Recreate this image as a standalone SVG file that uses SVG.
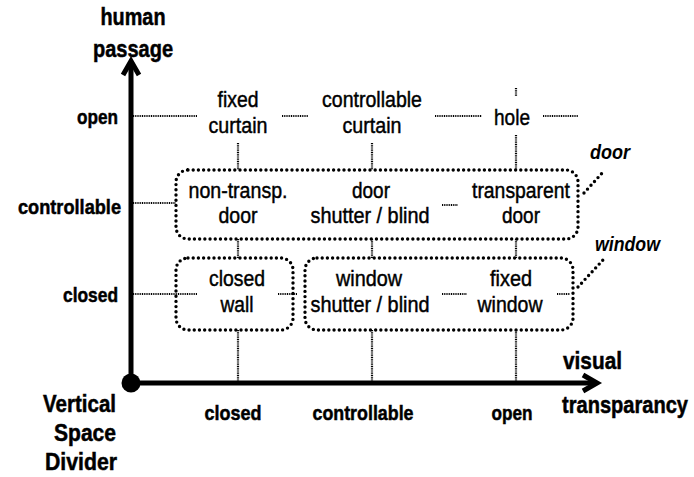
<svg xmlns="http://www.w3.org/2000/svg" width="694" height="477" viewBox="0 0 694 477">
  <style>
    text { font-family: "Liberation Sans Narrow", "Liberation Sans", Arial, sans-serif; fill: #000; }
    .ax { font-size: 21px; font-weight: bold; stroke: #000; stroke-width: 0.5; }
    .big { font-size: 24px; font-weight: bold; stroke: #000; stroke-width: 0.5; }
    .node { font-size: 22px; text-anchor: middle; stroke: #000; stroke-width: 0.45; }
    .grp { font-size: 21px; font-weight: bold; font-style: italic; }
    .end { text-anchor: end; }
    .mid { text-anchor: middle; }
    .axis { stroke: #000; stroke-width: 5; fill: none; }
    .box { fill: none; stroke: #000; stroke-width: 3.4; stroke-dasharray: 0 5.2; stroke-linecap: round; }
    .link { stroke: #000; stroke-width: 2.2; stroke-dasharray: 1 0.8; fill: none; }
  </style>

  <!-- axes -->
  <g id="axes">
    <line class="axis" x1="131" y1="383" x2="131" y2="64"/>
    <polyline class="axis" points="123,75 131,61 139,75" stroke-linejoin="miter"/>
    <line class="axis" x1="131" y1="383" x2="593" y2="383"/>
    <polyline class="axis" points="583,375 597,383 583,391" stroke-linejoin="miter"/>
    <circle cx="131" cy="383" r="9.5" fill="#000"/>
  </g>

  <!-- axis titles -->
  <g id="axis-titles">
    <text class="big mid" x="133" y="25" textLength="65" lengthAdjust="spacingAndGlyphs">human</text>
    <text class="big mid" x="133" y="57" textLength="80" lengthAdjust="spacingAndGlyphs">passage</text>
    <text class="big" x="563" y="369" textLength="59" lengthAdjust="spacingAndGlyphs">visual</text>
    <text class="big" x="562" y="413" textLength="126" lengthAdjust="spacingAndGlyphs">transparancy</text>
    <text class="big end" x="116" y="412" textLength="73" lengthAdjust="spacingAndGlyphs">Vertical</text>
    <text class="big end" x="116" y="441" textLength="62" lengthAdjust="spacingAndGlyphs">Space</text>
    <text class="big end" x="117" y="470" textLength="72" lengthAdjust="spacingAndGlyphs">Divider</text>
  </g>

  <!-- axis values -->
  <g id="axis-values">
    <text class="ax end" x="118" y="124" textLength="41" lengthAdjust="spacingAndGlyphs">open</text>
    <text class="ax end" x="121" y="214" textLength="103" lengthAdjust="spacingAndGlyphs">controllable</text>
    <text class="ax end" x="118" y="302" textLength="55" lengthAdjust="spacingAndGlyphs">closed</text>
    <text class="ax mid" x="233" y="420" textLength="57" lengthAdjust="spacingAndGlyphs">closed</text>
    <text class="ax mid" x="363" y="420" textLength="101" lengthAdjust="spacingAndGlyphs">controllable</text>
    <text class="ax mid" x="512" y="420" textLength="41" lengthAdjust="spacingAndGlyphs">open</text>
  </g>

  <!-- connectors -->
  <g id="connectors">
    <line class="link" x1="133" y1="116" x2="197" y2="116"/>
    <line class="link" x1="282" y1="116" x2="308" y2="116"/>
    <line class="link" x1="435" y1="116" x2="482" y2="116"/>
    <line class="link" x1="543" y1="116" x2="578" y2="116"/>
    <line class="link" x1="516" y1="88" x2="516" y2="96"/>
    <line class="link" x1="238" y1="143" x2="238" y2="170"/>
    <line class="link" x1="372" y1="143" x2="372" y2="170"/>
    <line class="link" x1="516" y1="135" x2="516" y2="170"/>
    <line class="link" x1="133" y1="203" x2="176" y2="203"/>
    <line class="link" x1="442" y1="205" x2="458" y2="205"/>
    <line class="link" x1="238" y1="239" x2="238" y2="258"/>
    <line class="link" x1="372" y1="239" x2="372" y2="258"/>
    <line class="link" x1="516" y1="239" x2="516" y2="258"/>
    <line class="link" x1="133" y1="294" x2="197" y2="294"/>
    <line class="link" x1="278" y1="294" x2="297" y2="294"/>
    <line class="link" x1="442" y1="294" x2="467" y2="294"/>
    <line class="link" x1="557" y1="294" x2="570" y2="294"/>
    <line class="link" x1="238" y1="330" x2="238" y2="382"/>
    <line class="link" x1="372" y1="330" x2="372" y2="382"/>
    <line class="link" x1="516" y1="330" x2="516" y2="382"/>
  </g>

  <!-- groupings -->
  <g id="door-group">
    <rect class="box" x="176" y="170" width="402" height="69" rx="12"/>
    <line class="box" x1="584" y1="193" x2="604" y2="171"/>
    <text class="grp" x="590" y="159" textLength="40" lengthAdjust="spacingAndGlyphs">door</text>
  </g>
  <g id="wall-group">
    <rect class="box" x="176" y="258" width="117" height="72" rx="12"/>
  </g>
  <g id="window-group">
    <rect class="box" x="305" y="258" width="268" height="72" rx="12"/>
    <line class="box" x1="578" y1="287" x2="603" y2="260"/>
    <text class="grp" x="595" y="251" textLength="65" lengthAdjust="spacingAndGlyphs">window</text>
  </g>

  <!-- nodes -->
  <g id="fixed-curtain">
    <text class="node" x="238" y="107" textLength="41" lengthAdjust="spacingAndGlyphs">fixed</text>
    <text class="node" x="238" y="133" textLength="59" lengthAdjust="spacingAndGlyphs">curtain</text>
  </g>
  <g id="controllable-curtain">
    <text class="node" x="372" y="107" textLength="100" lengthAdjust="spacingAndGlyphs">controllable</text>
    <text class="node" x="372" y="133" textLength="59" lengthAdjust="spacingAndGlyphs">curtain</text>
  </g>
  <g id="hole">
    <text class="node" x="512" y="125" textLength="36" lengthAdjust="spacingAndGlyphs">hole</text>
  </g>
  <g id="non-transparent-door">
    <text class="node" x="238" y="198" textLength="99" lengthAdjust="spacingAndGlyphs">non-transp.</text>
    <text class="node" x="238" y="223" textLength="39" lengthAdjust="spacingAndGlyphs">door</text>
  </g>
  <g id="door-shutter">
    <text class="node" x="371" y="198" textLength="38" lengthAdjust="spacingAndGlyphs">door</text>
    <text class="node" x="370" y="223" textLength="119" lengthAdjust="spacingAndGlyphs">shutter / blind</text>
  </g>
  <g id="transparent-door">
    <text class="node" x="521" y="198" textLength="98" lengthAdjust="spacingAndGlyphs">transparent</text>
    <text class="node" x="521" y="223" textLength="38" lengthAdjust="spacingAndGlyphs">door</text>
  </g>
  <g id="closed-wall">
    <text class="node" x="237" y="286" textLength="56" lengthAdjust="spacingAndGlyphs">closed</text>
    <text class="node" x="237" y="312" textLength="33" lengthAdjust="spacingAndGlyphs">wall</text>
  </g>
  <g id="window-shutter">
    <text class="node" x="369" y="286" textLength="66" lengthAdjust="spacingAndGlyphs">window</text>
    <text class="node" x="370" y="312" textLength="119" lengthAdjust="spacingAndGlyphs">shutter / blind</text>
  </g>
  <g id="fixed-window">
    <text class="node" x="511" y="286" textLength="42" lengthAdjust="spacingAndGlyphs">fixed</text>
    <text class="node" x="510" y="312" textLength="65" lengthAdjust="spacingAndGlyphs">window</text>
  </g>
</svg>
